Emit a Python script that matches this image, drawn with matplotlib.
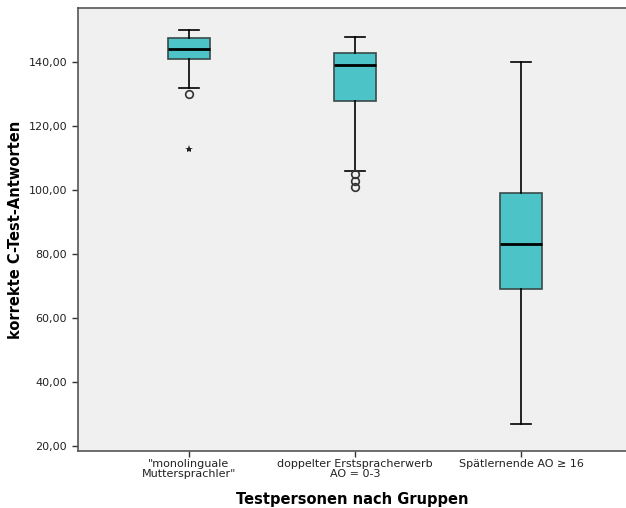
import matplotlib.pyplot as plt

groups = ['"monolinguale\nMuttersprachler"', 'doppelter Erstspracherwerb\nAO = 0-3', 'Spätlernende AO ≥ 16']

# box statistics per group
whisk_lo = [132, 106, 27]
q1 = [141, 128, 69]
median = [144, 139, 83]
q3 = [147.5, 143, 99]
whisk_hi = [150, 148, 140]
outliers = [[130], [105, 103, 101], []]
extremes = [[113], [], []]

yticks = [20, 40, 60, 80, 100, 120, 140]

stats = []
for i in range(len(groups)):
    stats.append(dict(whislo=whisk_lo[i], q1=q1[i], med=median[i], q3=q3[i],
                      whishi=whisk_hi[i], fliers=outliers[i]))

fig = plt.figure(figsize=(6.26, 5.08), dpi=100)
ax = fig.add_axes([0.124, 0.112, 0.878, 0.872])
ax.set_facecolor('#eff0ef')

pos = [1, 2, 3]
ax.bxp(stats, positions=pos, widths=0.255, patch_artist=True,
       boxprops=dict(facecolor='#4cc3c6', edgecolor='#3a4a4a', linewidth=1.2),
       medianprops=dict(color='black', linewidth=2),
       whiskerprops=dict(color='black', linewidth=1.2),
       capprops=dict(color='black', linewidth=1.2),
       capwidths=0.12,
       flierprops=dict(marker='o', markersize=5.5, markerfacecolor='none',
                       markeredgecolor='#333333', markeredgewidth=1.2))

for p, ex in zip(pos, extremes):
    if ex:
        ax.plot([p] * len(ex), ex, linestyle='none', marker='*', markersize=6,
                color='#222222', markeredgewidth=0)

ax.set_xlim(0.331, 3.64)
ax.set_ylim(18.4, 156.9)
ax.set_yticks(yticks)
ax.set_yticklabels([f'{v},00' for v in yticks], fontsize=8, color='#222222')
ax.set_xticks(pos)
ax.set_xticklabels(groups, fontsize=8, color='#222222', linespacing=0.95)
ax.tick_params(length=4, width=1, color='#333333')
ax.tick_params(axis='x', pad=2)

for s in ['left', 'bottom', 'top']:
    ax.spines[s].set_color('#555555')
    ax.spines[s].set_linewidth(1.2)
ax.spines['right'].set_visible(False)

ax.set_ylabel('korrekte C-Test-Antworten', fontsize=10.5, fontweight='bold', labelpad=4)
ax.set_xlabel('Testpersonen nach Gruppen', fontsize=10.5, fontweight='bold', labelpad=9)

fig.savefig('out.png', dpi=100)
